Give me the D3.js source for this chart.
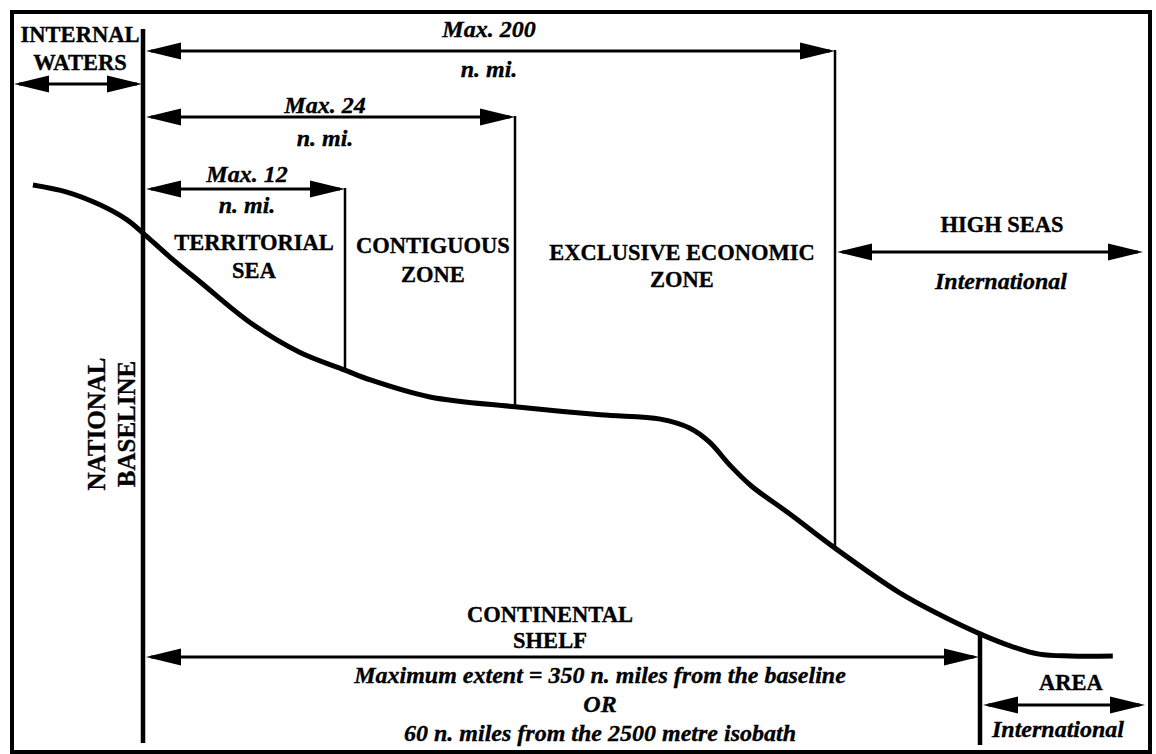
<!DOCTYPE html>
<html>
<head>
<meta charset="utf-8">
<script src="https://cdn.jsdelivr.net/npm/d3@7"></script>
<style>
  body { margin: 0; background: #fff; }
  svg { display: block; }
  text { font-family: "Liberation Serif", "Times New Roman", serif; font-weight: bold; fill: #000; stroke: #000; stroke-width: 0.35px; }
  .it { font-style: italic; font-size: 24px; }
  .cap { font-size: 22.5px; }
</style>
</head>
<body>
<script>
/* Zone limits, n. mi. from the national baseline (diagram is not to scale) */
const zoneBreaks = [-30, 0, 12, 24, 200, 350, 420];

/* Seabed profile: distance (n. mi.) and relative depth (0 = coast, 100 = deep floor) */
const profileNm = [-25.6, -17.7, -10, -3.7, 0, 1.6, 3.4, 6.4, 9.3, 12, 13.8, 18, 24, 71, 104, 120, 131, 142, 154, 175, 200, 267, 309, 350, 363, 375, 388, 406];
const profileDepth = [0, 1.5, 4.2, 7.4, 10.2, 15.3, 20.6, 29.3, 35.5, 39.3, 41.4, 45.0, 47.1, 48.8, 49.7, 51.6, 54.6, 59.4, 63.9, 69.8, 77.1, 86.6, 91.3, 95.3, 97.9, 99.6, 100, 100];

/* Limits measured from the baseline */
const limitValues = [12, 24, 200];
const limitLabels = ["Max. 12", "Max. 24", "Max. 200"];
const limitUnit = "n. mi.";

/* Zone names */
const zoneNames = [
  ["INTERNAL", "WATERS"],
  ["TERRITORIAL", "SEA"],
  ["CONTIGUOUS", "ZONE"],
  ["EXCLUSIVE ECONOMIC", "ZONE"],
  ["HIGH SEAS"],
  ["CONTINENTAL", "SHELF"],
  ["AREA"],
];
const baselineName = ["NATIONAL", "BASELINE"];
const shelfNote = [
  "Maximum extent = 350 n. miles from the baseline",
  "OR",
  "60 n. miles from the 2500 metre isobath",
];
const internationalLabel = "International";

const width = 1156,
  height = 754;

const svg = d3
  .select("body")
  .append("svg")
  .attr("width", width)
  .attr("height", height)
  .attr("viewBox", [0, 0, width, height]);

// piecewise scale, each zone gets its own width
const x = d3
  .scaleLinear()
  .domain(zoneBreaks)
  .range([14, 143, 345, 515, 835, 980, 1146]);

const y = d3.scaleLinear().domain([0, 100]).range([185, 656]);

const depthAt = (nm) => y(profileDepth[profileNm.indexOf(nm)]);

// frame
svg
  .append("rect")
  .attr("x", 12)
  .attr("y", 12)
  .attr("width", 1138)
  .attr("height", 740)
  .attr("fill", "none")
  .attr("stroke", "#000")
  .attr("stroke-width", 4);

// seabed
const line = d3
  .line()
  .curve(d3.curveCatmullRom)
  .x((i) => x(profileNm[i]))
  .y((i) => y(profileDepth[i]));

svg
  .append("path")
  .attr("d", line(d3.range(profileNm.length)))
  .attr("fill", "none")
  .attr("stroke", "#000")
  .attr("stroke-width", 5);

/* double headed arrow */
const arrow = (x1, x2, yy) => {
  const len = 35,
    half = 8.5;
  const g = svg.append("g");
  g.append("line")
    .attr("x1", x1 + 5)
    .attr("x2", x2 - 5)
    .attr("y1", yy)
    .attr("y2", yy)
    .attr("stroke", "#000")
    .attr("stroke-width", 3);
  g.append("path")
    .attr("d", `M${x1},${yy}L${x1 + len},${yy - half}L${x1 + len},${yy + half}Z`)
    .attr("fill", "#000");
  g.append("path")
    .attr("d", `M${x2},${yy}L${x2 - len},${yy - half}L${x2 - len},${yy + half}Z`)
    .attr("fill", "#000");
};

// limit rows (top of diagram)
const limitRowY = [189, 117, 51];

limitValues.forEach((v, i) => {
  const yy = limitRowY[i];
  svg
    .append("line")
    .attr("x1", x(v))
    .attr("x2", x(v))
    .attr("y1", yy - 1)
    .attr("y2", depthAt(v))
    .attr("stroke", "#000")
    .attr("stroke-width", 2.5);
  arrow(x(0) + 3, x(v), yy);
  const cx = (x(0) + x(v)) / 2 + [3, -4, 0][i];
  svg
    .append("text")
    .attr("class", "it")
    .attr("x", cx)
    .attr("y", yy - [7, 4, 14][i])
    .attr("text-anchor", "middle")
    .text(limitLabels[i]);
  svg
    .append("text")
    .attr("class", "it")
    .attr("x", cx)
    .attr("y", yy + [24, 29, 26][i])
    .attr("text-anchor", "middle")
    .text(limitUnit);
});

// national baseline
svg
  .append("line")
  .attr("x1", x(0))
  .attr("x2", x(0))
  .attr("y1", 29)
  .attr("y2", 743)
  .attr("stroke", "#000")
  .attr("stroke-width", 4.5);

// continental shelf limit
svg
  .append("line")
  .attr("x1", x(350))
  .attr("x2", x(350))
  .attr("y1", depthAt(350) - 2)
  .attr("y2", 745)
  .attr("stroke", "#000")
  .attr("stroke-width", 4.5);

// other arrows
arrow(x(-30), x(0) - 1, 84);
arrow(x(200) + 2, x(420) - 3, 252);
arrow(x(0) + 3, x(350) - 1, 657);
arrow(x(350) + 3, x(420) - 1, 705);

/* zone labels: [centre x, first baseline, line gap] */
const labelPos = [
  [80, 42, 28],
  [254, 250, 28],
  [433, 253, 29],
  [682, 260, 27],
  [1002, 232, 0],
  [550, 622, 26],
  [1071, 690, 0],
];

zoneNames.forEach((lines, i) => {
  const [cx, by, gap] = labelPos[i];
  lines.forEach((t, j) => {
    svg
      .append("text")
      .attr("class", "cap")
      .attr("x", cx)
      .attr("y", by + j * gap)
      .attr("text-anchor", "middle")
      .text(t);
  });
});

// International notes
svg
  .append("text")
  .attr("class", "it")
  .attr("x", 1001)
  .attr("y", 289)
  .attr("text-anchor", "middle")
  .text(internationalLabel);

svg
  .append("text")
  .attr("class", "it")
  .attr("x", 1058)
  .attr("y", 737)
  .attr("text-anchor", "middle")
  .text(internationalLabel);

// shelf extent note
shelfNote.forEach((t, i) => {
  svg
    .append("text")
    .attr("class", "it")
    .attr("x", 600)
    .attr("y", 683 + i * 29)
    .attr("text-anchor", "middle")
    .text(t);
});

// rotated baseline label
baselineName.forEach((t, i) => {
  svg
    .append("text")
    .attr("transform", `translate(${105 + i * 30}, 424) rotate(-90)`)
    .attr("text-anchor", "middle")
    .style("font-size", "25px")
    .text(t);
});
</script>
</body>
</html>
